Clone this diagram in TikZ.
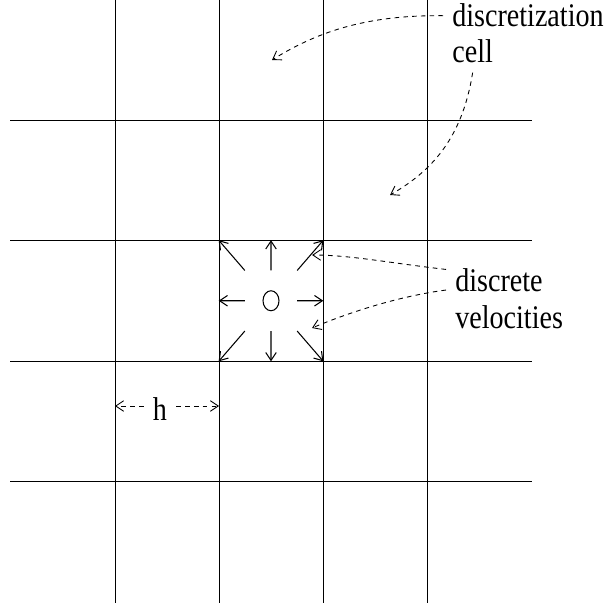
\documentclass[tikz,border=0pt]{standalone}
\usepackage{fontspec}
\usepackage{graphicx}
\setmainfont{Liberation Serif}
\newfontfamily\lblfont{Liberation Serif}
\usetikzlibrary{shapes.geometric, arrows.meta, calc}
\newcommand{\narrow}[1]{\scalebox{0.85}[1]{#1}}

\begin{document}
\begin{tikzpicture}[x=0.02cm, y=-0.02cm, >={Straight Barb[length=4.5pt, width=6pt]},
    gridline/.style={draw, line width=0.55pt},
    vel/.style={->, line width=0.6pt},
    note/.style={->, dashed, dash pattern=on 2.6pt off 2.4pt, line width=0.5pt},
    lbl/.style={font=\lblfont\fontsize{18.8}{22}\selectfont, inner sep=0.18cm}]
    \useasboundingbox (0,0) rectangle (603,607);

    \foreach \x in {115,219,323,427}
        \draw[gridline] (\x,0) -- (\x,603);
    \foreach \y in {120,240.5,361,481.5}
        \draw[gridline] (10,\y) -- (532,\y);

    \node [inner sep=0, minimum width=2.08cm, minimum height=2.41cm] (box) at (271,300.75) {};
    \node [draw, ellipse, line width=0.6pt, inner sep=0, minimum width=0.32cm, minimum height=0.4cm] (o) at (box.center) {};
    \foreach \a in {north west, north, north east, west, east, south west, south, south east}
        \draw[vel] ($(box.center)!0.5!(box.\a)$) -- (box.\a);

    \node [lbl, anchor=base west] (disc) at (443,27) {\narrow{discretization}};
    \node [lbl, anchor=base west] (cellt) at (443,63) {\narrow{cell}};
    \node [lbl, anchor=base west] (dsc) at (446,292) {\narrow{discrete}};
    \node [lbl, anchor=base west] (vel) at (446,328) {\narrow{velocities}};
    \node [lbl, anchor=base] (h) at (160,420) {\narrow{h}};

    \coordinate (t1) at (272,60);
    \coordinate (t2) at (390,195);
    \coordinate (t3) at (312,255);
    \coordinate (t4) at (312,328);
    \coordinate (hl) at (115,406);
    \coordinate (hr) at (219,406);

    \draw[note] (disc.west) .. controls (370,15) and (320,30) .. (t1);
    \draw[note] (cellt.south) .. controls (462,140) and (430,172) .. (t2);
    \draw[note] (dsc.168) .. controls (390,263) and (350,255) .. (t3);
    \draw[note] (dsc.190) .. controls (400,296) and (350,312) .. (t4);
    \draw[note] (hl -| h.west) -- (hl);
    \draw[note] (hr -| h.east) -- (hr);
\end{tikzpicture}
\end{document}
